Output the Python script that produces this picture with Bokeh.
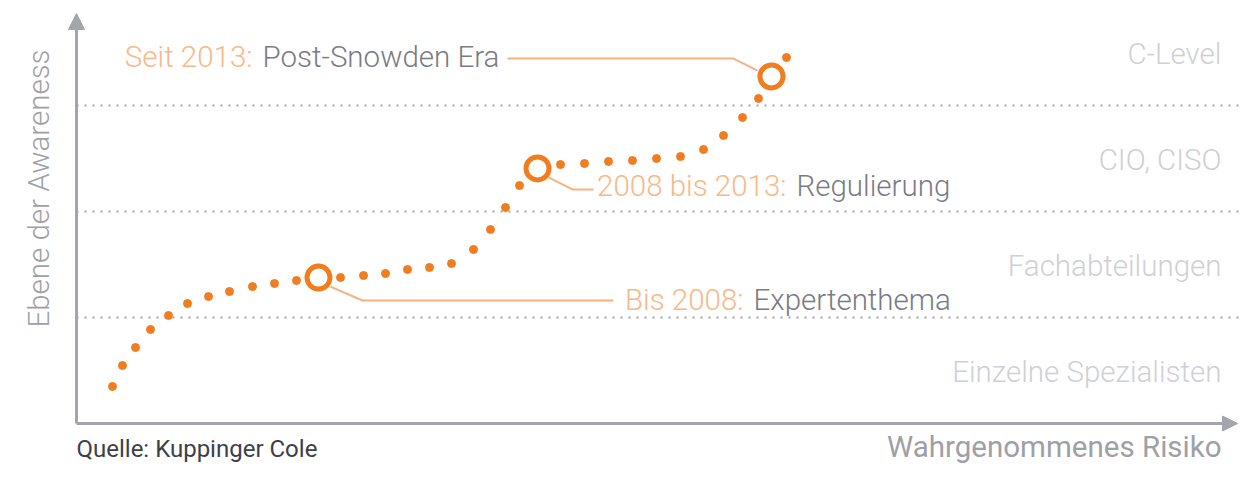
from bokeh.plotting import figure
from bokeh.models import Range1d, Label, Arrow, NormalHead
from bokeh.embed import file_html
from bokeh.resources import INLINE
import math

# ---------------- data ----------------
# perceived risk (x) vs awareness level (y); level bands 0..4
trend_x = [0.36, 0.46, 0.59, 0.74, 0.92, 1.11, 1.32, 1.53, 1.76, 1.98, 2.20,
           2.64, 2.87, 3.09, 3.31, 3.53, 3.75, 3.97, 4.14, 4.29, 4.43,
           4.84, 5.08, 5.32, 5.56, 5.80, 6.04, 6.27, 6.47, 6.66, 6.82, 7.10]
trend_y = [0.349, 0.547, 0.717, 0.887, 1.019, 1.132, 1.198, 1.245, 1.292, 1.321, 1.349,
           1.377, 1.396, 1.415, 1.453, 1.472, 1.509, 1.642, 1.830, 2.038, 2.245,
           2.443, 2.453, 2.472, 2.481, 2.500, 2.519, 2.585, 2.717, 2.887, 3.066, 3.453]

milestone_x = [2.42, 4.61, 6.95]
milestone_y = [1.377, 2.406, 3.274]
milestone_period = ["Bis 2008:", "2008 bis 2013:", "Seit 2013:"]
milestone_name = ["Expertenthema", "Regulierung", "Post-Snowden Era"]

# leader lines from each milestone to its label
leader_x = [[2.54, 2.86, 5.37], [4.72, 4.96, 5.17], [6.81, 6.57, 4.31]]
leader_y = [[1.292, 1.160, 1.160], [2.321, 2.208, 2.208], [3.330, 3.443, 3.443]]

band_levels = [0, 1, 2, 3]
band_names = ["Einzelne Spezialisten", "Fachabteilungen", "CIO, CISO", "C-Level"]
band_boundaries = [1, 2, 3]

x_title = "Wahrgenommenes Risiko"
y_title = "Ebene der Awareness"
source_note = "Quelle: Kuppinger Cole"

# ---------------- styling ----------------
ORANGE = "#F07D1F"
LIGHT_ORANGE = "#F8B888"
LEADER = "#F6B27E"
DARK_GREY = "#7A7B84"
BAND_GREY = "#CFD0D4"
AXIS_GREY = "#A4A5AA"
TITLE_GREY = "#9FA0A6"
LIGHT = "'Roboto Light', Roboto, sans-serif"
REG = "Roboto"
FS = "29.5px"
TXT_SHIFT = 0.104   # baseline correction (about 11 px)

X_START, X_END = -0.76, 11.64
p = figure(width=1240, height=465, output_backend="svg", toolbar_location=None,
           x_range=Range1d(X_START, X_END), y_range=Range1d(-42 / 106, 423 / 106),
           x_axis_type=None, y_axis_type=None, min_border=0,
           background_fill_color="white", border_fill_color="white")
p.outline_line_color = None
p.grid.visible = False

# dotted level boundaries
p.segment(x0=[0] * len(band_boundaries), x1=[X_END] * len(band_boundaries),
          y0=band_boundaries, y1=band_boundaries,
          line_color="#A3A4A9", line_width=2, line_dash="2 6")

# axes with arrow heads
p.add_layout(Arrow(x_start=0, y_start=0, x_end=0, y_end=3.868,
                   line_color=AXIS_GREY, line_width=3,
                   end=NormalHead(size=16, fill_color=AXIS_GREY, line_color=AXIS_GREY)))
p.add_layout(Arrow(x_start=0, y_start=0, x_end=11.61, y_end=0,
                   line_color=AXIS_GREY, line_width=3,
                   end=NormalHead(size=15, fill_color=AXIS_GREY, line_color=AXIS_GREY)))

# band labels
for lvl, name in zip(band_levels, band_names):
    p.add_layout(Label(x=11.45, y=lvl + 0.38 + TXT_SHIFT, text=name, text_align="right",
                       text_baseline="alphabetic", text_color=BAND_GREY,
                       text_font=LIGHT, text_font_size=FS))

# leader lines
p.multi_line(xs=leader_x, ys=leader_y, line_color=LEADER, line_width=2)

# trend dots
p.scatter(trend_x, trend_y, size=8, color=ORANGE)

# milestones
p.scatter(milestone_x, milestone_y, size=23, fill_color="white",
          line_color=ORANGE, line_width=5)

# milestone labels
label_pos = [(6.67, 1.057), (7.10, 2.132), (1.76, 3.349)]
for (lx, ly), per, name in zip(label_pos, milestone_period, milestone_name):
    p.add_layout(Label(x=lx, y=ly + TXT_SHIFT, text=per, text_align="right",
                       text_baseline="alphabetic", text_color=LIGHT_ORANGE,
                       text_font=LIGHT, text_font_size=FS))
    p.add_layout(Label(x=lx + 0.10, y=ly + TXT_SHIFT, text=name, text_align="left",
                       text_baseline="alphabetic", text_color=DARK_GREY,
                       text_font=LIGHT, text_font_size=FS))

# axis titles
p.add_layout(Label(x=11.45, y=-0.226, text=x_title, text_align="right",
                   text_baseline="alphabetic", text_color=TITLE_GREY,
                   text_font=REG, text_font_size=FS))
p.add_layout(Label(x=-0.38, y=2.217, text=y_title, text_align="center",
                   text_baseline="alphabetic", angle=math.pi / 2,
                   text_color=TITLE_GREY, text_font=LIGHT, text_font_size=FS))

# source note
p.add_layout(Label(x=0, y=-0.236, text=source_note, text_align="left",
                   text_baseline="alphabetic", text_color="#3D4049",
                   text_font=REG, text_font_size="24px"))

open("out.html", "w").write(file_html(p, INLINE))
